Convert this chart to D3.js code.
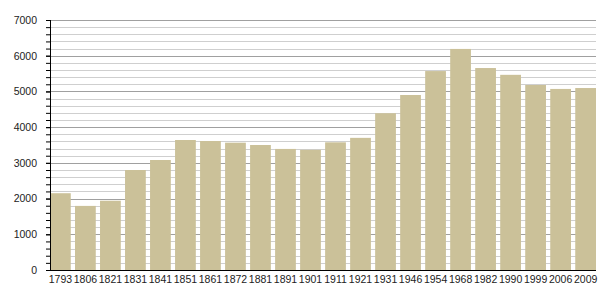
<!DOCTYPE html>
<html>
<head>
<meta charset="utf-8">
<script src="https://cdn.jsdelivr.net/npm/d3@7"></script>
<style>
  body { margin: 0; background: #fff; }
  svg { display: block; }
  text { font-family: "Liberation Sans", Arial, sans-serif; font-size: 10.5px; fill: #222; }
</style>
</head>
<body>
<div id="chart"></div>
<script>
// census years and population
var years = ["1793", "1806", "1821", "1831", "1841", "1851", "1861", "1872", "1881", "1891", "1901",
  "1911", "1921", "1931", "1946", "1954", "1968", "1982", "1990", "1999", "2006", "2009"];
var population = [2150, 1795, 1940, 2800, 3080, 3640, 3612, 3565, 3500, 3390, 3365,
  3575, 3700, 4390, 4900, 5570, 6190, 5655, 5465, 5180, 5070, 5095];
var yTicks = [0, 1000, 2000, 3000, 4000, 5000, 6000, 7000];

var w = 605,
  h = 300,
  margin = {top: 20, right: 9, bottom: 30, left: 50};

var svg = d3.select("#chart")
  .append("svg")
  .attr("width", w)
  .attr("height", h);

var x = d3.scaleBand()
  .domain(years)
  .range([margin.left, w - margin.right])
  .paddingInner(0.17)
  .paddingOuter(0);

var y = d3.scaleLinear()
  .domain([0, 7000])
  .range([h - margin.bottom, margin.top]);

// grid lines, minor every 200, major every 1000
var minor = d3.range(200, 7001, 200);
svg.append("g")
  .selectAll("line")
  .data(minor)
  .enter()
  .append("line")
    .attr("x1", margin.left)
    .attr("x2", w - margin.right)
    .attr("y1", function(d) { return Math.round(y(d)) + 0.5; })
    .attr("y2", function(d) { return Math.round(y(d)) + 0.5; })
    .attr("stroke", function(d) { return d % 1000 === 0 ? "#a0a0a0" : "#cfcfcf"; })
    .attr("stroke-width", 1);

// bars
svg.append("g")
  .selectAll("rect")
  .data(population)
  .enter()
  .append("rect")
    .attr("x", function(d, i) { return x(years[i]); })
    .attr("y", function(d) { return y(d); })
    .attr("width", x.bandwidth())
    .attr("height", function(d) { return y(0) - y(d); })
    .attr("fill", "#cbc199");

// y axis with minor ticks
var yAxis = svg.append("g")
  .attr("transform", "translate(" + margin.left + ",0)");

yAxis.append("g")
  .call(d3.axisLeft(y).tickValues(d3.range(0, 7001, 200)).tickSize(4).tickFormat(""))
  .call(function(g) { g.select(".domain").remove(); })
  .selectAll("line").attr("stroke", "#000");

yAxis.append("g")
  .call(d3.axisLeft(y).tickValues(yTicks).tickSize(4).tickPadding(9).tickFormat(d3.format("d")))
  .call(function(g) { g.select(".domain").remove(); })
  .call(function(g) {
    g.selectAll("line").attr("stroke", "#000");
    g.selectAll("text").attr("fill", "#222").style("font-family", null).style("font-size", null);
  })
  .attr("font-family", null).attr("font-size", null);

yAxis.append("line")
  .attr("x1", 0.5).attr("x2", 0.5)
  .attr("y1", y(7000)).attr("y2", y(0))
  .attr("stroke", "#000");

// x axis
var xAxis = svg.append("g")
  .attr("transform", "translate(0," + y(0) + ")")
  .call(d3.axisBottom(x).tickSize(0).tickPadding(6))
  .attr("font-family", null).attr("font-size", null);
xAxis.select(".domain").remove();
xAxis.selectAll("text").attr("fill", "#222");

svg.append("line")
  .attr("x1", margin.left).attr("x2", w - margin.right)
  .attr("y1", y(0) + 0.5).attr("y2", y(0) + 0.5)
  .attr("stroke", "#000");
</script>
</body>
</html>
